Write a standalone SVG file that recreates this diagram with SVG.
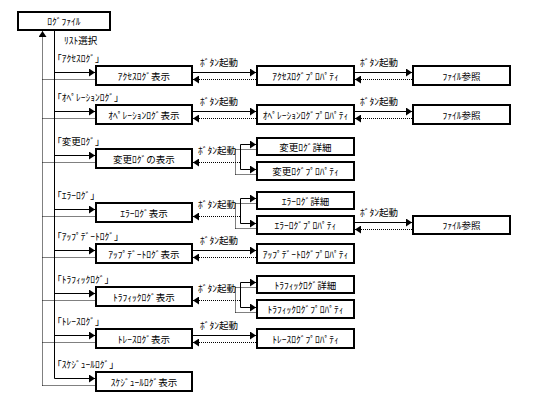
<svg xmlns="http://www.w3.org/2000/svg" width="540" height="420" viewBox="0 0 540 420">
<style>
.box{fill:#fff;stroke:#000;stroke-width:2}
text{font-family:"Noto Sans CJK JP","Noto Sans",sans-serif;font-size:9.5px;fill:#000;dominant-baseline:central}
.c{text-anchor:middle}
.s{stroke:#000;stroke-width:1;fill:none}
.d{stroke:#000;stroke-width:1;stroke-dasharray:1 1;fill:none}
</style>
<defs>
<marker id="ah" viewBox="0 0 6 8" refX="6" refY="4" markerWidth="6" markerHeight="8" markerUnits="userSpaceOnUse" orient="auto">
<path d="M0,0 L6,4 L0,8 z" fill="#000"/>
</marker>
</defs>
<rect width="540" height="420" fill="#fff"/>
<g id="connectors">
<line class="s" x1="54.5" y1="30" x2="54.5" y2="378.5"/>
<line class="d" x1="42.5" y1="385.5" x2="42.5" y2="31" marker-end="url(#ah)"/>
<line class="s" x1="54.5" y1="72.5" x2="95" y2="72.5" marker-end="url(#ah)"/>
<line class="s" x1="54.5" y1="111.5" x2="95" y2="111.5" marker-end="url(#ah)"/>
<line class="s" x1="54.5" y1="155.5" x2="95" y2="155.5" marker-end="url(#ah)"/>
<line class="s" x1="54.5" y1="209.5" x2="95" y2="209.5" marker-end="url(#ah)"/>
<line class="s" x1="54.5" y1="250.5" x2="95" y2="250.5" marker-end="url(#ah)"/>
<line class="s" x1="54.5" y1="293.5" x2="95" y2="293.5" marker-end="url(#ah)"/>
<line class="s" x1="54.5" y1="335.5" x2="95" y2="335.5" marker-end="url(#ah)"/>
<line class="s" x1="54.5" y1="378.5" x2="95" y2="378.5" marker-end="url(#ah)"/>
<path class="d" d="M42.5,79.5H95 M42.5,118.5H95 M42.5,162.5H95 M42.5,216.5H95 M42.5,257.5H95 M42.5,300.5H95 M42.5,342.5H95 M42.5,385.5H95"/>
<line class="s" x1="193" y1="72.5" x2="256" y2="72.5" marker-end="url(#ah)"/>
<line class="d" x1="256" y1="79.5" x2="193" y2="79.5" marker-end="url(#ah)"/>
<line class="s" x1="355" y1="72.5" x2="412" y2="72.5" marker-end="url(#ah)"/>
<line class="d" x1="412" y1="79.5" x2="355" y2="79.5" marker-end="url(#ah)"/>
<line class="s" x1="193" y1="111.5" x2="256" y2="111.5" marker-end="url(#ah)"/>
<line class="d" x1="256" y1="118.5" x2="193" y2="118.5" marker-end="url(#ah)"/>
<line class="s" x1="355" y1="111.5" x2="412" y2="111.5" marker-end="url(#ah)"/>
<line class="d" x1="412" y1="118.5" x2="355" y2="118.5" marker-end="url(#ah)"/>
<path class="s" d="M240.5,144.5V169.5"/>
<line class="s" x1="240.5" y1="144.5" x2="256" y2="144.5" marker-end="url(#ah)"/>
<line class="s" x1="240.5" y1="169.5" x2="256" y2="169.5" marker-end="url(#ah)"/>
<line class="d" x1="240" y1="162.5" x2="193" y2="162.5" marker-end="url(#ah)"/>
<path class="d" d="M235.5,149.5V174.5 M235.5,149.5H257 M235.5,174.5H257"/>
<path class="s" d="M240.5,198.5V223.5"/>
<line class="s" x1="240.5" y1="198.5" x2="256" y2="198.5" marker-end="url(#ah)"/>
<line class="s" x1="240.5" y1="223.5" x2="256" y2="223.5" marker-end="url(#ah)"/>
<line class="d" x1="240" y1="216.5" x2="193" y2="216.5" marker-end="url(#ah)"/>
<path class="d" d="M235.5,203.5V228.5 M235.5,203.5H257 M235.5,228.5H257"/>
<line class="s" x1="355" y1="222.5" x2="412" y2="222.5" marker-end="url(#ah)"/>
<line class="d" x1="412" y1="229.5" x2="355" y2="229.5" marker-end="url(#ah)"/>
<line class="s" x1="193" y1="250.5" x2="256" y2="250.5" marker-end="url(#ah)"/>
<line class="d" x1="256" y1="257.5" x2="193" y2="257.5" marker-end="url(#ah)"/>
<path class="s" d="M240.5,282.5V307.5"/>
<line class="s" x1="240.5" y1="282.5" x2="256" y2="282.5" marker-end="url(#ah)"/>
<line class="s" x1="240.5" y1="307.5" x2="256" y2="307.5" marker-end="url(#ah)"/>
<line class="d" x1="240" y1="300.5" x2="193" y2="300.5" marker-end="url(#ah)"/>
<path class="d" d="M235.5,287.5V312.5 M235.5,287.5H257 M235.5,312.5H257"/>
<line class="s" x1="193" y1="335.5" x2="256" y2="335.5" marker-end="url(#ah)"/>
<line class="d" x1="256" y1="342.5" x2="193" y2="342.5" marker-end="url(#ah)"/>
</g>
<g id="edge-labels">
<text x="64" y="40">ﾘｽﾄ選択</text>
<text x="57" y="58">｢ｱｸｾｽﾛｸﾞ｣</text>
<text x="57" y="97">｢ｵﾍﾟﾚｰｼｮﾝﾛｸﾞ｣</text>
<text x="57" y="141">｢変更ﾛｸﾞ｣</text>
<text x="57" y="195">｢ｴﾗｰﾛｸﾞ｣</text>
<text x="57" y="236">｢ｱｯﾌﾟﾃﾞｰﾄﾛｸﾞ｣</text>
<text x="57" y="279">｢ﾄﾗﾌｨｯｸﾛｸﾞ｣</text>
<text x="57" y="321">｢ﾄﾚｰｽﾛｸﾞ｣</text>
<text x="57" y="364">｢ｽｹｼﾞｭｰﾙﾛｸﾞ｣</text>
<text x="200" y="62">ﾎﾞﾀﾝ起動</text>
<text x="360" y="62">ﾎﾞﾀﾝ起動</text>
<text x="200" y="101">ﾎﾞﾀﾝ起動</text>
<text x="360" y="101">ﾎﾞﾀﾝ起動</text>
<text x="198" y="150">ﾎﾞﾀﾝ起動</text>
<text x="198" y="204">ﾎﾞﾀﾝ起動</text>
<text x="360" y="212">ﾎﾞﾀﾝ起動</text>
<text x="200" y="240">ﾎﾞﾀﾝ起動</text>
<text x="198" y="288">ﾎﾞﾀﾝ起動</text>
<text x="200" y="325">ﾎﾞﾀﾝ起動</text>
</g>
<g id="n-logfile"><rect class="box" x="18" y="12" width="92" height="18"/><text class="c" x="64" y="21">ﾛｸﾞﾌｧｲﾙ</text></g>
<g id="n-access"><rect class="box" x="96" y="66" width="96" height="19"/><text class="c" x="144" y="75.5">ｱｸｾｽﾛｸﾞ表示</text></g>
<g id="n-access-prop"><rect class="box" x="257" y="66" width="97" height="19"/><text class="c" x="305.5" y="75.5">ｱｸｾｽﾛｸﾞﾌﾟﾛﾊﾟﾃｨ</text></g>
<g id="n-access-file"><rect class="box" x="413" y="66" width="97" height="19"/><text class="c" x="461.5" y="75.5">ﾌｧｲﾙ参照</text></g>
<g id="n-op"><rect class="box" x="96" y="105" width="96" height="19"/><text class="c" x="144" y="114.5">ｵﾍﾟﾚｰｼｮﾝﾛｸﾞ表示</text></g>
<g id="n-op-prop"><rect class="box" x="257" y="105" width="97" height="19"/><text class="c" x="305.5" y="114.5">ｵﾍﾟﾚｰｼｮﾝﾛｸﾞﾌﾟﾛﾊﾟﾃｨ</text></g>
<g id="n-op-file"><rect class="box" x="413" y="105" width="97" height="19"/><text class="c" x="461.5" y="114.5">ﾌｧｲﾙ参照</text></g>
<g id="n-change"><rect class="box" x="96" y="149" width="96" height="19"/><text class="c" x="144" y="158.5">変更ﾛｸﾞの表示</text></g>
<g id="n-change-detail"><rect class="box" x="257" y="138" width="97" height="17"/><text class="c" x="305.5" y="146.5">変更ﾛｸﾞ詳細</text></g>
<g id="n-change-prop"><rect class="box" x="257" y="162" width="97" height="18"/><text class="c" x="305.5" y="171">変更ﾛｸﾞﾌﾟﾛﾊﾟﾃｨ</text></g>
<g id="n-error"><rect class="box" x="96" y="203" width="96" height="19"/><text class="c" x="144" y="212.5">ｴﾗｰﾛｸﾞ表示</text></g>
<g id="n-error-detail"><rect class="box" x="257" y="192" width="97" height="17"/><text class="c" x="305.5" y="200.5">ｴﾗｰﾛｸﾞ詳細</text></g>
<g id="n-error-prop"><rect class="box" x="257" y="216" width="97" height="18"/><text class="c" x="305.5" y="225">ｴﾗｰﾛｸﾞﾌﾟﾛﾊﾟﾃｨ</text></g>
<g id="n-error-file"><rect class="box" x="413" y="216" width="97" height="18"/><text class="c" x="461.5" y="225">ﾌｧｲﾙ参照</text></g>
<g id="n-update"><rect class="box" x="96" y="244" width="96" height="19"/><text class="c" x="144" y="253.5">ｱｯﾌﾟﾃﾞｰﾄﾛｸﾞ表示</text></g>
<g id="n-update-prop"><rect class="box" x="257" y="244" width="97" height="19"/><text class="c" x="305.5" y="253.5">ｱｯﾌﾟﾃﾞｰﾄﾛｸﾞﾌﾟﾛﾊﾟﾃｨ</text></g>
<g id="n-traffic"><rect class="box" x="96" y="287" width="96" height="19"/><text class="c" x="144" y="296.5">ﾄﾗﾌｨｯｸﾛｸﾞ表示</text></g>
<g id="n-traffic-detail"><rect class="box" x="257" y="276" width="97" height="17"/><text class="c" x="305.5" y="284.5">ﾄﾗﾌｨｯｸﾛｸﾞ詳細</text></g>
<g id="n-traffic-prop"><rect class="box" x="257" y="300" width="97" height="18"/><text class="c" x="305.5" y="309">ﾄﾗﾌｨｯｸﾛｸﾞﾌﾟﾛﾊﾟﾃｨ</text></g>
<g id="n-trace"><rect class="box" x="96" y="329" width="96" height="19"/><text class="c" x="144" y="338.5">ﾄﾚｰｽﾛｸﾞ表示</text></g>
<g id="n-trace-prop"><rect class="box" x="257" y="329" width="97" height="19"/><text class="c" x="305.5" y="338.5">ﾄﾚｰｽﾛｸﾞﾌﾟﾛﾊﾟﾃｨ</text></g>
<g id="n-schedule"><rect class="box" x="96" y="372" width="96" height="19"/><text class="c" x="144" y="381.5">ｽｹｼﾞｭｰﾙﾛｸﾞ表示</text></g>
</svg>
